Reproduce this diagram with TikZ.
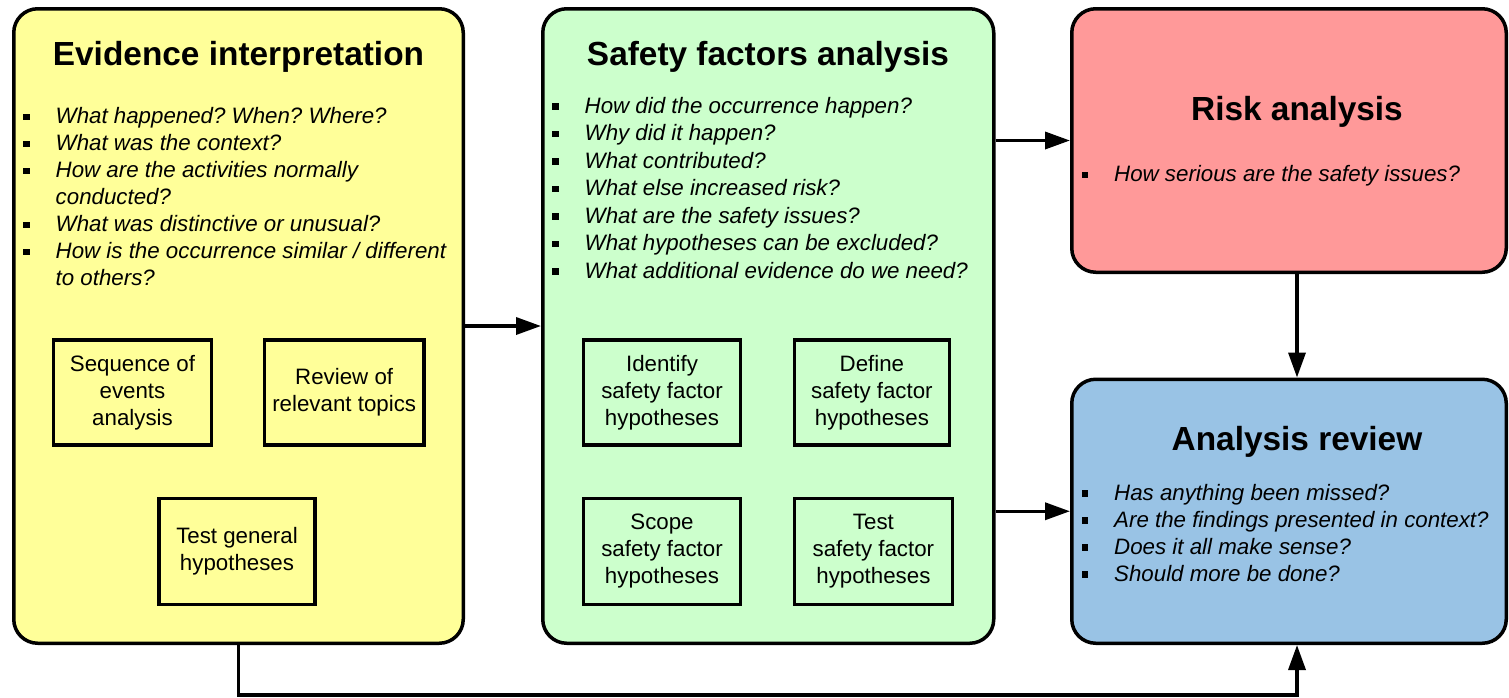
\documentclass[tikz,border=0pt]{standalone}
\usepackage{fontspec}
\setmainfont{Liberation Sans}
\usetikzlibrary{arrows.meta}
\frenchspacing

\definecolor{evyellow}{RGB}{255,255,153}
\definecolor{sfgreen}{RGB}{204,255,204}
\definecolor{riskred}{RGB}{255,153,153}
\definecolor{revblue}{RGB}{153,195,229}

% square list marker followed by the hanging indent
\newcommand\sqmark{\makebox[32.5pt][l]{\rule[3.5pt]{6.5pt}{6.5pt}}}

\begin{document}
\begin{tikzpicture}[x=1pt,y=-1pt,
  panel/.style={draw, line width=3.5pt, rounded corners=24pt, inner sep=0pt},
  task/.style={draw, line width=3.5pt, inner sep=0pt, align=center,
               minimum height=105pt, font=\fontsize{22.3}{27}\selectfont},
  heading/.style={anchor=base, inner sep=0pt, font=\bfseries\fontsize{33.4}{38}\selectfont},
  item/.style={anchor=base west, inner sep=0pt, font=\itshape\fontsize{22.3}{27}\selectfont},
  flow/.style={line width=3.5pt, -{Triangle[length=25pt,width=17pt]}}
]
\useasboundingbox (0,0) rectangle (1509,697);

% ---- the four stages ----
\node[panel, fill=evyellow, minimum width=449.5pt, minimum height=634.5pt] (ei)  at (238.5,326) {};
\node[panel, fill=sfgreen,  minimum width=451pt,   minimum height=634.5pt] (sfa) at (768.25,326) {};
\node[panel, fill=riskred,  minimum width=434.5pt, minimum height=263.5pt] (ra)  at (1289,140.5) {};
\node[panel, fill=revblue,  minimum width=434.5pt, minimum height=264pt]   (ar)  at (1289,511.25) {};

% ---- headings ----
\node[heading] (eiT)  at (238.5,65)   {Evidence interpretation};
\node[heading] (sfaT) at (768,65)     {Safety factors analysis};
\node[heading] (raT)  at (1297,120.7) {Risk analysis};
\node[heading] (arT)  at (1297,450.7) {Analysis review};

% ---- evidence interpretation questions ----
\node[item] (ei1)  at (23,123.5) {\sqmark What happened? When? Where?};
\node[item] (ei2)  at (23,150.5) {\sqmark What was the context?};
\node[item] (ei3)  at (23,177.5) {\sqmark How are the activities normally};
\node[item] (ei3b) at (55.5,204.5) {conducted?};
\node[item] (ei4)  at (23,231.5) {\sqmark What was distinctive or unusual?};
\node[item] (ei5)  at (23,258.5) {\sqmark How is the occurrence similar / different};
\node[item] (ei5b) at (55.5,285.5) {to others?};

% ---- safety factors analysis questions ----
\node[item] (sf1) at (552,113.3) {\sqmark How did the occurrence happen?};
\node[item] (sf2) at (552,140.8) {\sqmark Why did it happen?};
\node[item] (sf3) at (552,168.3) {\sqmark What contributed?};
\node[item] (sf4) at (552,195.8) {\sqmark What else increased risk?};
\node[item] (sf5) at (552,223.3) {\sqmark What are the safety issues?};
\node[item] (sf6) at (552,250.8) {\sqmark What hypotheses can be excluded?};
\node[item] (sf7) at (552,278.3) {\sqmark What additional evidence do we need?};

% ---- risk analysis question ----
\node[item] (ra1) at (1081.5,181.7) {\sqmark How serious are the safety issues?};

% ---- analysis review questions ----
\node[item] (ar1) at (1081.5,500)   {\sqmark Has anything been missed?};
\node[item] (ar2) at (1081.5,527)   {\sqmark Are the findings presented in context?};
\node[item] (ar3) at (1081.5,554)   {\sqmark Does it all make sense?};
\node[item] (ar4) at (1081.5,581)   {\sqmark Should more be done?};

% ---- tasks within the stages ----
\node[task, minimum width=158pt]    (seq)  at (132.5,392.5) {Sequence of\\events\\analysis};
\node[task, minimum width=159.5pt]  (rev)  at (344.2,392.5) {Review of\\relevant topics};
\node[task, minimum width=156pt, minimum height=105.75pt] (tgh) at (237,551.4) {Test general\\hypotheses};
\node[task, minimum width=157pt]    (idf)  at (662,392.5)   {Identify\\safety factor\\hypotheses};
\node[task, minimum width=154.75pt] (dsf)  at (871.9,392.5) {Define\\safety factor\\hypotheses};
\node[task, minimum width=157pt, minimum height=105.75pt]    (ssf) at (662,551.4)   {Scope\\safety factor\\hypotheses};
\node[task, minimum width=157.75pt, minimum height=105.75pt] (tsf) at (873.4,551.4) {Test\\safety factor\\hypotheses};

% ---- flow between stages ----
\coordinate (spine) at (1297,0);
\coordinate (loop)  at (238.5,695);
\draw[flow] (ei.east) -- (sfa.west);
\draw[flow] (sfa.east |- ra.west) -- (ra.west);
\draw[flow] (sfa.east |- ar.west) -- (ar.west);
\draw[flow] (spine |- ra.south) -- (spine |- ar.north);
\draw[flow] (ei.south) -- (loop) -| (spine |- ar.south);
\end{tikzpicture}
\end{document}
